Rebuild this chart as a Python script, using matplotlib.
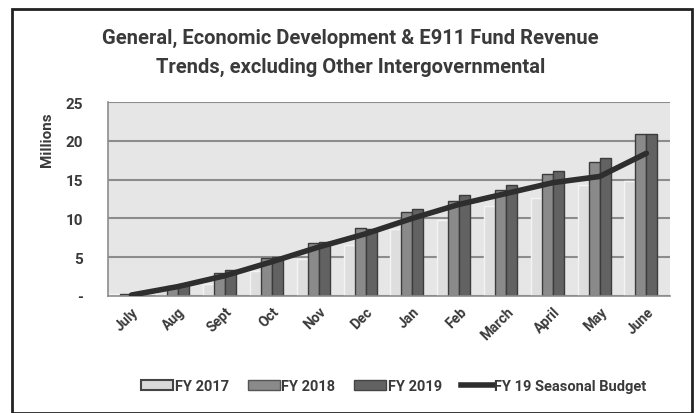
import numpy as np
import matplotlib.pyplot as plt
from matplotlib.patches import Rectangle, Patch
from matplotlib.lines import Line2D

months = ["July", "Aug", "Sept", "Oct", "Nov", "Dec", "Jan", "Feb", "March", "April", "May", "June"]
fy2017 = [0.2, 0.9, 1.5, 3.2, 4.8, 6.6, 8.6, 9.8, 11.6, 12.6, 14.3, 14.8]
fy2018 = [0.2, 1.3, 3.0, 4.9, 6.8, 8.7, 10.8, 12.3, 13.7, 15.7, 17.3, 20.9]
fy2019 = [0.2, 1.5, 3.3, 5.0, 7.0, 8.6, 11.2, 13.0, 14.3, 16.1, 17.8, 20.9]
budget = [0.1, 1.2, 2.6, 4.4, 6.3, 8.0, 10.0, 11.8, 13.2, 14.6, 15.4, 18.4]
yticks = [0, 5, 10, 15, 20, 25]
ytick_labels = ["-", "5", "10", "15", "20", "25"]

plt.rcParams['font.family'] = ['Roboto', 'DejaVu Sans']
txt = '#3a3a3a'

fig = plt.figure(figsize=(6.97, 4.14), dpi=100)
fig.patch.set_facecolor('white')
# chart frame
fig.patches.append(Rectangle((12/697, 0.0), 680/697, 1 - 10/414, transform=fig.transFigure,
                             fill=False, edgecolor='#222222', linewidth=2))

ax = fig.add_axes([0.155, 0.283, 0.806, 0.468])
ax.set_facecolor('#e6e6e6')

x = np.arange(len(months))
w = 0.235
ax.bar(x - 1.5 * w, fy2017, w, color='#dedede', edgecolor='#f4f4f4', linewidth=1, zorder=2)
ax.bar(x - 0.5 * w, fy2018, w, color='#8a8a8a', edgecolor='#3c3c3c', linewidth=1, zorder=2)
ax.bar(x + 0.5 * w, fy2019, w, color='#626262', edgecolor='#3c3c3c', linewidth=1, zorder=2)
ax.plot(x, budget, color='#2e2e2e', linewidth=4, solid_capstyle='round', zorder=3)

ax.set_xlim(-0.5, len(months) - 0.5)
ax.set_ylim(0, 25)
ax.set_yticks(yticks)
ax.set_yticklabels(ytick_labels, fontsize=11, fontweight='bold', color=txt)
ax.yaxis.grid(True, color='#8c8c8c', linewidth=1.5, zorder=0)
ax.set_axisbelow(True)
ax.tick_params(axis='y', length=0, pad=18)
ax.tick_params(axis='x', length=0, pad=6)
ax.set_xticks(x)
ax.set_xticklabels(months, rotation=45, ha='right', rotation_mode='anchor',
                   fontsize=10, fontweight='bold', color=txt)
for s in ['top', 'right']:
    ax.spines[s].set_visible(False)
ax.spines['left'].set_color('#8c8c8c')
ax.spines['bottom'].set_color('#8c8c8c')
ax.spines['left'].set_linewidth(1.2)
ax.spines['bottom'].set_linewidth(1.2)

ax.set_ylabel("Millions", fontsize=11, fontweight='bold', color=txt)
ax.yaxis.set_label_coords(-0.096, 0.81)

fig.text(0.503, 0.907, "General, Economic Development & E911 Fund Revenue",
         ha='center', va='center', fontsize=14.5, fontweight='bold', color=txt)
fig.text(0.503, 0.838, "Trends, excluding Other Intergovernmental",
         ha='center', va='center', fontsize=14.5, fontweight='bold', color=txt)

handles = [Patch(facecolor='#d9d9d9', edgecolor='#444444', linewidth=1.5),
           Patch(facecolor='#8a8a8a', edgecolor='#555555'),
           Patch(facecolor='#626262', edgecolor='#444444'),
           Line2D([0], [0], color='#2e2e2e', linewidth=4)]
labels = ["FY 2017", "FY 2018", "FY 2019", "FY 19 Seasonal Budget"]
fig.legend(handles, labels, loc='center', bbox_to_anchor=(0.565, 0.065), ncol=4,
           frameon=False, handlelength=2.2, handleheight=0.6, handletextpad=0.1,
           columnspacing=1.3, prop={'weight': 'bold', 'size': 10.5})
for t in fig.legends[0].get_texts():
    t.set_color(txt)

fig.savefig('out.png', dpi=100)
